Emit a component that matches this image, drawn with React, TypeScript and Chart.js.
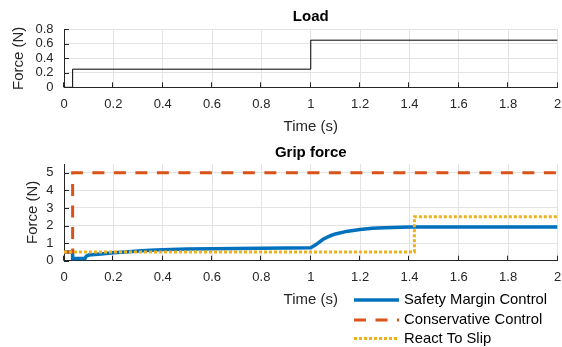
import { useEffect, useRef } from "react";
import { Chart, registerables } from "chart.js";

Chart.register(...registerables);

const FONT = '"Liberation Sans", Arial, Helvetica, sans-serif';
const INK = "#262626";
const GRID = "#e3e3e3";

// Axis ticks
const timeTicks = [0, 0.2, 0.4, 0.6, 0.8, 1, 1.2, 1.4, 1.6, 1.8, 2];
const loadTicks = [0, 0.2, 0.4, 0.6, 0.8];
const gripTicks = [0, 1, 2, 3, 4, 5];

// Applied load (N) over time (s)
const loadTime = [0, 0.035, 0.035, 1, 1, 2];
const loadForce = [0, 0, 0.25, 0.25, 0.65, 0.65];

// Grip force series
const safetyTime = [
  0, 0.035, 0.035, 0.085, 0.09, 0.1, 0.15, 0.2, 0.25, 0.3, 0.35, 0.4, 0.5, 0.6,
  0.7, 0.8, 0.9, 1.0, 1.02, 1.05, 1.08, 1.1, 1.15, 1.2, 1.25, 1.3, 1.4, 1.5, 2.0,
];
const safetyForce = [
  0.5, 0.5, 0.12, 0.12, 0.25, 0.32, 0.38, 0.45, 0.5, 0.55, 0.6, 0.63, 0.66, 0.68,
  0.7, 0.71, 0.72, 0.74, 0.9, 1.22, 1.42, 1.52, 1.68, 1.78, 1.84, 1.88, 1.91, 1.92, 1.92,
];
const conservativeTime = [0, 0.035, 0.035, 2];
const conservativeForce = [0.5, 0.5, 5, 5];
const slipTime = [0, 1.42, 1.42, 2];
const slipForce = [0.5, 0.5, 2.5, 2.5];

const seriesNames = ["Safety Margin Control", "Conservative Control", "React To Slip"];
const seriesColors = ["#0072BD", "#D95319", "#EDB120"];
const seriesWidths = [3.5, 3, 3];
const seriesDashes: number[][] = [[], [12, 9.5], [3, 2]];

const toPoints = (xs: number[], ys: number[]) => xs.map((x, i) => ({ x, y: ys[i] }));
const fmt = (v: number) => String(+Number(v).toFixed(3));

// Short tick marks pointing into the plot area
const inwardTicks = {
  id: "inwardTicks",
  afterDatasetsDraw(chart: any) {
    const { ctx, chartArea: a, scales } = chart;
    ctx.save();
    ctx.strokeStyle = INK;
    ctx.lineWidth = 1;
    ctx.setLineDash([]);
    ctx.beginPath();
    for (const t of scales.x.ticks) {
      const px = Math.round(scales.x.getPixelForValue(t.value)) - 0.5;
      ctx.moveTo(px, a.bottom);
      ctx.lineTo(px, a.bottom - 5);
    }
    for (const t of scales.y.ticks) {
      const py = Math.round(scales.y.getPixelForValue(t.value)) + 0.5;
      ctx.moveTo(a.left, py);
      ctx.lineTo(a.left + 5, py);
    }
    ctx.stroke();
    ctx.restore();
  },
};

// Legend stacked below the grip-force axes, right of the x label
const gripLegend = {
  id: "gripLegend",
  afterDraw(chart: any) {
    const { ctx } = chart;
    const x0 = 354;
    const x1 = 399;
    const tx = 404;
    const rows = [164, 184, 202.5];
    ctx.save();
    ctx.font = `14.8px ${FONT}`;
    ctx.textBaseline = "middle";
    ctx.textAlign = "left";
    seriesNames.forEach((name, i) => {
      ctx.beginPath();
      ctx.strokeStyle = seriesColors[i];
      ctx.lineWidth = seriesWidths[i];
      ctx.setLineDash(seriesDashes[i]);
      ctx.moveTo(x0, rows[i]);
      ctx.lineTo(x1, rows[i]);
      ctx.stroke();
      ctx.setLineDash([]);
      ctx.fillStyle = "#000";
      ctx.fillText(name, tx, rows[i]);
    });
    ctx.restore();
  },
};

function tickOptions(padding: number) {
  return {
    autoSkip: false,
    maxRotation: 0,
    minRotation: 0,
    padding,
    color: INK,
    font: { family: FONT, size: 13 },
    callback: (v: number) => fmt(v),
  };
}

function axisConfig(
  ticks: number[],
  min: number,
  max: number,
  title: string,
  titlePadding: { top: number; bottom: number },
  extra: any
) {
  return {
    type: "linear",
    min,
    max,
    afterBuildTicks: (s: any) => {
      s.ticks = ticks.map((value) => ({ value }));
    },
    grid: { color: GRID, lineWidth: 1, drawTicks: false },
    border: { display: true, color: INK, width: 1 },
    title: {
      display: true,
      text: title,
      color: INK,
      font: { family: FONT, size: 15 },
      padding: titlePadding,
    },
    ...extra,
  };
}

// Time axis with a fixed height and only the end label's half width as side padding
function timeAxis(height: number, labelPad: number) {
  return axisConfig(timeTicks, 0, 2, "Time (s)", { top: 0, bottom: 0 }, {
    ticks: tickOptions(labelPad),
    afterFit: (s: any) => {
      s.height = height;
      s.paddingLeft = 0;
      s.paddingRight = 3.6;
    },
  });
}

function forceAxis(ticks: number[], max: number, titleOffset: number) {
  return axisConfig(ticks, 0, max, "Force (N)", { top: titleOffset, bottom: 0 }, {
    ticks: tickOptions(10.5),
    afterFit: (s: any) => {
      s.width = 64;
    },
  });
}

function titleConfig(text: string, top: number, bottom: number) {
  return {
    display: true,
    text,
    fullSize: false,
    color: "#000",
    font: { family: FONT, size: 15, weight: "bold" },
    padding: { top, bottom },
  };
}

export default function App() {
  const topRef = useRef<HTMLCanvasElement>(null);
  const bottomRef = useRef<HTMLCanvasElement>(null);

  useEffect(() => {
    const loadChart = new Chart(topRef.current!, {
      type: "line",
      data: {
        datasets: [
          {
            data: toPoints(loadTime, loadForce),
            borderColor: "#000",
            borderWidth: 1,
            pointRadius: 0,
            tension: 0,
            fill: false,
          },
        ],
      },
      options: {
        animation: false,
        responsive: false,
        events: [],
        layout: { padding: { left: 0, right: 4.5, top: 0, bottom: 0.5 } },
        plugins: {
          legend: { display: false },
          tooltip: { enabled: false },
          title: titleConfig("Load", 7.5, 3.8),
        },
        scales: {
          x: timeAxis(48.2, 9.4),
          y: forceAxis(loadTicks, 0.8, 10),
        },
      } as any,
      plugins: [inwardTicks],
    });

    const gripSeries = [
      [safetyTime, safetyForce],
      [conservativeTime, conservativeForce],
      [slipTime, slipForce],
    ];
    const gripChart = new Chart(bottomRef.current!, {
      type: "line",
      data: {
        datasets: gripSeries.map(([xs, ys], i) => ({
          label: seriesNames[i],
          data: toPoints(xs, ys),
          borderColor: seriesColors[i],
          borderWidth: seriesWidths[i],
          borderDash: seriesDashes[i],
          borderCapStyle: "butt",
          pointRadius: 0,
          tension: 0,
          fill: false,
          order: 3 - i,
        })),
      },
      options: {
        animation: false,
        responsive: false,
        events: [],
        layout: { padding: { left: 0, right: 4.5, top: 0, bottom: 38 } },
        plugins: {
          legend: { display: false },
          tooltip: { enabled: false },
          title: titleConfig("Grip force", 8, 2),
        },
        scales: {
          x: timeAxis(48.3, 9),
          y: forceAxis(gripTicks, 5.5, 24),
        },
      } as any,
      plugins: [inwardTicks, gripLegend],
    });

    return () => {
      loadChart.destroy();
      gripChart.destroy();
    };
  }, []);

  return (
    <div
      style={{
        position: "absolute",
        left: 0,
        top: 0,
        width: 562,
        height: 347,
        background: "#fff",
      }}
    >
      <canvas
        ref={topRef}
        width={562}
        height={136}
        style={{ position: "absolute", left: 0, top: 0, width: 562, height: 136 }}
      />
      <canvas
        ref={bottomRef}
        width={562}
        height={211}
        style={{ position: "absolute", left: 0, top: 136, width: 562, height: 211 }}
      />
    </div>
  );
}
